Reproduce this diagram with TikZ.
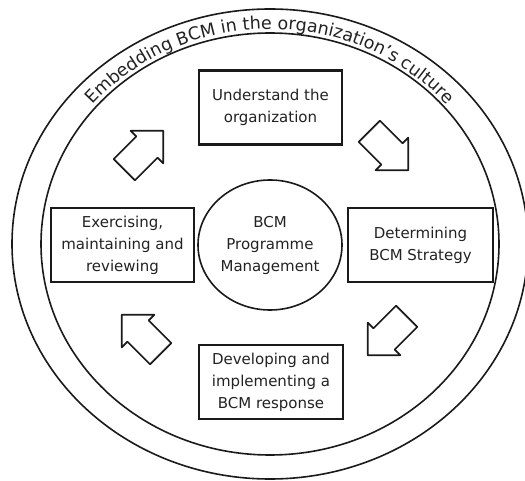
\documentclass[tikz,border=0pt]{standalone}
\usepackage{fontspec}
\setmainfont{DejaVu Sans}
\usetikzlibrary{decorations.text,shapes.geometric}
\definecolor{inkline}{HTML}{1A1A1A}
\definecolor{inktext}{HTML}{222222}
\begin{document}
\begin{tikzpicture}[x=1pt,y=1pt,
  ring/.style={draw=inkline, line width=1.6pt},
  stagebox/.style={draw=inkline, line width=2.2pt, minimum width=143pt,
    minimum height=74pt, align=center, inner sep=0pt,
    font=\fontsize{15}{22}\selectfont, text=inktext},
  hub/.style={draw=inkline, line width=1.6pt, ellipse, minimum width=144pt,
    minimum height=130pt, align=center, inner sep=0pt,
    font=\fontsize{15}{22}\selectfont, text=inktext},
  blockarrow/.style={draw=inkline, line width=1.7pt, line join=round, fill=white},
  pics/cyclearrow/.style={code={
    \draw[blockarrow] (-25,-15) -- (7,-15) -- (7,-23) -- (30,0) -- (7,23)
      -- (7,15) -- (-25,15) -- cycle;}},
]
\useasboundingbox (0,0) rectangle (525,-481);
\clip (0,0) rectangle (525,-481);

% culture band
\coordinate (c) at (270,-244);
\draw[ring] (c) ellipse [x radius=258, y radius=235];
\draw[ring] (c) ellipse [x radius=229, y radius=211];
\path[decorate, decoration={text along path, text align=center,
    text={|\fontsize{17.5}{17.5}\selectfont\color{inktext}|Embedding BCM in the organization's culture}}]
  (c) ++(180:232 and 215) arc[start angle=180, end angle=0, x radius=232, y radius=215];

% programme management hub
\node[hub] (prog) at (270,-245) {BCM\\Programme\\Management};

% lifecycle stages
\node[stagebox] (understand) at (270.5,-107.5) {Understand the\\organization};
\node[stagebox, minimum width=145pt] (strategy) at (420.5,-245) {Determining\\BCM Strategy};
\node[stagebox, minimum width=144pt] (response) at (271,-382) {Developing and\\implementing a\\BCM response};
\node[stagebox] (exercise) at (122.5,-245) {Exercising,\\maintaining and\\reviewing};

% cycle arrows
\pic[rotate=-45] at (387,-149) {cyclearrow};
\pic[rotate=-135] at (389,-334) {cyclearrow};
\pic[rotate=135] at (143,-336) {cyclearrow};
\pic[rotate=45] at (142,-152) {cyclearrow};
\end{tikzpicture}
\end{document}
